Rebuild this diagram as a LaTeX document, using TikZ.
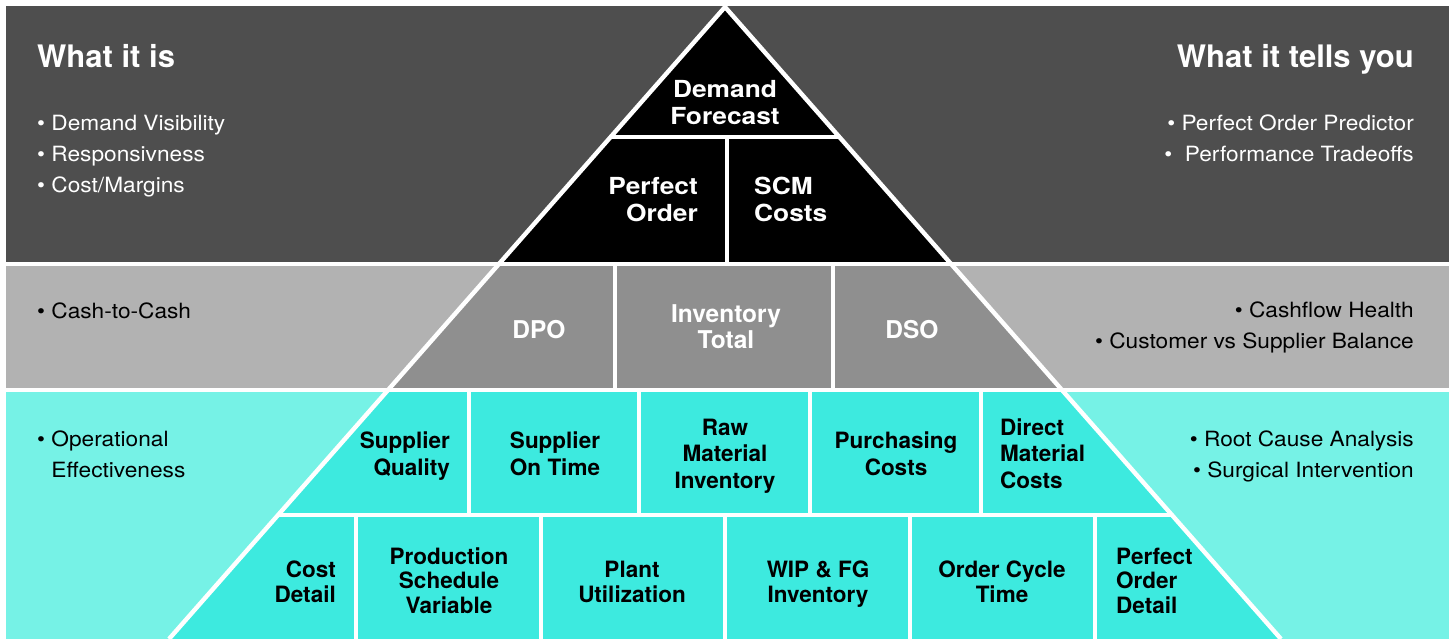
\documentclass[tikz,border=0pt]{standalone}
\usepackage{fontspec}
\setmainfont{TeX Gyre Heros}
\newfontfamily\bodyfont[FakeStretch=1.08]{TeX Gyre Heros}
\newfontfamily\topfont[FakeStretch=1.12]{TeX Gyre Heros}
\definecolor{bandDark}{HTML}{4E4E4E}
\definecolor{bandGray}{HTML}{B2B2B2}
\definecolor{tierGray}{HTML}{8F8F8F}
\definecolor{bandCyan}{HTML}{76F2E6}
\definecolor{tierCyan}{HTML}{3DEADF}
\begin{document}
\begin{tikzpicture}[x=1pt,y=-1pt,
  sep/.style={white,line width=4.4pt},
  head/.style={font=\fontsize{31}{34}\selectfont\bfseries,text=white,inner sep=0pt},
  bul/.style={font=\bodyfont\fontsize{21}{31}\selectfont,inner sep=0pt},
  celltop/.style={font=\topfont\fontsize{23.5}{27}\selectfont\bfseries,text=white,inner sep=0pt},
  cellmid/.style={font=\fontsize{24.5}{26}\selectfont\bfseries,text=white,inner sep=0pt},
  cell/.style={font=\fontsize{22.5}{26.5}\selectfont\bfseries,inner sep=0pt},
  cellb/.style={font=\fontsize{22.5}{24.5}\selectfont\bfseries,inner sep=0pt},
]
\useasboundingbox (0,0) rectangle (1449,639);
\clip (0,0) rectangle (1449,639);
\fill[white] (0,0) rectangle (1449,639);
\fill[bandDark] (6,6) rectangle (1449,264);
\fill[bandGray] (6,264) rectangle (1449,390);
\fill[bandCyan] (6,390) rectangle (1449,639);
\begin{scope}
  \clip (725,7) -- (169,639) -- (1281,639) -- cycle;
  \fill[black] (0,0) rectangle (1449,264);
  \fill[tierGray] (0,264) rectangle (1449,390);
  \fill[tierCyan] (0,390) rectangle (1449,639);
  \draw[sep] (0,137) -- (1449,137);
  \draw[sep] (0,515) -- (1449,515);
  \draw[sep] (727,137) -- (727,264);
  \draw[sep] (615,264) -- (615,390);
  \draw[sep] (833,264) -- (833,390);
  \draw[sep] (469,390) -- (469,515);
  \draw[sep] (639,390) -- (639,515);
  \draw[sep] (810,390) -- (810,515);
  \draw[sep] (981,390) -- (981,515);
  \draw[sep] (356,515) -- (356,639);
  \draw[sep] (541,515) -- (541,639);
  \draw[sep] (725,515) -- (725,639);
  \draw[sep] (910,515) -- (910,639);
  \draw[sep] (1095,515) -- (1095,639);
\end{scope}
\draw[sep] (0,264) -- (1449,264);
\draw[sep] (0,389.8) -- (1449,389.8);
\draw[sep] (169,639) -- (725,7) -- (1281,639);

% side texts (base anchor = baseline of last line)
\node[head, anchor=base west] (t1) at (37,68) {What it is};
\node[head, anchor=base east] (t2) at (1414,68) {What it tells you};
\node[bul, text=white, anchor=base west, align=left] (l1) at (37,193)
  {\textbullet\ Demand Visibility\\\textbullet\ Responsivness\\\textbullet\ Cost/Margins};
\node[bul, text=white, anchor=base east, align=right] (r1) at (1414,162)
  {\textbullet\ Perfect Order Predictor\\\textbullet\ \ Performance Tradeoffs};
\node[bul, anchor=base west] (l2) at (37,318) {\textbullet\ Cash-to-Cash};
\node[bul, anchor=base east, align=right] (r2) at (1414,348)
  {\textbullet\ Cashflow Health\\\textbullet\ Customer vs Supplier Balance};
\node[bul, anchor=base west, align=left] (l3) at (37,477)
  {\textbullet\ Operational\\\phantom{\textbullet\ }Effectiveness};
\node[bul, anchor=base east, align=right] (r3) at (1414,477)
  {\textbullet\ Root Cause Analysis\\\textbullet\ Surgical Intervention};

% pyramid cells
\node[celltop,anchor=base,align=center] (df) at (725,125) {Demand\\Forecast};
\node[celltop,anchor=base east,align=right] (po) at (698,222) {Perfect\\Order};
\node[celltop,anchor=base west,align=left] (scm) at (754,222) {SCM\\Costs};
\node[cellmid,anchor=base] (dpo) at (539,338) {DPO};
\node[cellmid,anchor=base,align=center] (inv) at (726,348) {Inventory\\Total};
\node[cellmid,anchor=base] (dso) at (912,338) {DSO};

\node[cell,anchor=base east,align=right] (sq) at (450,475) {Supplier\\Quality};
\node[cell,anchor=base,align=center] (sot) at (555,475) {Supplier\\On Time};
\node[cell,anchor=base,align=center] (rmi) at (725,488) {Raw\\Material\\Inventory};
\node[cell,anchor=base,align=center] (pc) at (896,475) {Purchasing\\Costs};
\node[cell,anchor=base west,align=left] (dmc) at (1000,488) {Direct\\Material\\Costs};

\node[cellb,anchor=base east,align=right] (cd) at (336,602) {Cost\\Detail};
\node[cellb,anchor=base,align=center] (psv) at (449,613) {Production\\Schedule\\Variable};
\node[cellb,anchor=base,align=center] (pu) at (632,602) {Plant\\Utilization};
\node[cellb,anchor=base,align=center] (wip) at (818,602) {WIP \& FG\\Inventory};
\node[cellb,anchor=base,align=center] (oct) at (1002,602) {Order Cycle\\Time};
\node[cellb,anchor=base west,align=left] (pod) at (1116,613) {Perfect\\Order\\Detail};
\end{tikzpicture}
\end{document}
